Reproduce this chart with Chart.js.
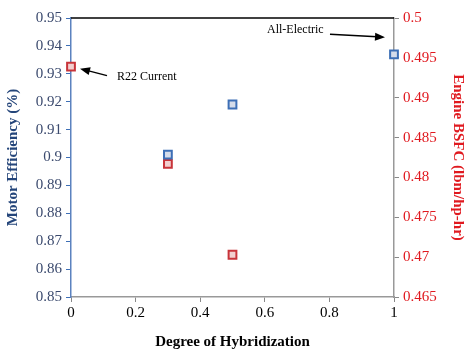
<!DOCTYPE html>
<html>
<head>
<meta charset="utf-8">
<script src="https://cdn.jsdelivr.net/npm/chart.js@4"></script>
<style>
  html, body { margin: 0; padding: 0; background: #fff; }
  #box { width: 474px; height: 363px; }
</style>
</head>
<body>
<div id="box"><canvas id="grafico"></canvas></div>
<script>
// dados
let hibridizacao = [0.3, 0.5, 1];
let eficienciaMotor = [0.901, 0.919, 0.937];
let hibridizacaoBSFC = [0, 0.3, 0.5];
let bsfcMotor = [0.4939, 0.4817, 0.4703];

let ticksX = [0, 0.2, 0.4, 0.6, 0.8, 1];
let ticksEsq = [0.85, 0.86, 0.87, 0.88, 0.89, 0.9, 0.91, 0.92, 0.93, 0.94, 0.95];
let ticksDir = [0.465, 0.47, 0.475, 0.48, 0.485, 0.49, 0.495, 0.5];

let notas = [
  { texto: "R22 Current", serie: 1, ponto: 0 },
  { texto: "All-Electric", serie: 0, ponto: 2 }
];

const fonte = "'Liberation Serif', 'Times New Roman', serif";
const azul = '#3d6fb6';
const vermelho = '#c8343a';

function fixaTicks(lista) {
  return function (eixo) {
    eixo.ticks = lista.map(v => ({ value: v }));
  };
}

function rotulo(v) {
  return String(Number(v.toFixed(4)));
}

function seta(ctx, x1, y1, x2, y2) {
  let ang = Math.atan2(y2 - y1, x2 - x1);
  ctx.beginPath();
  ctx.moveTo(x1, y1);
  ctx.lineTo(x2 - 8 * Math.cos(ang), y2 - 8 * Math.sin(ang));
  ctx.stroke();
  ctx.beginPath();
  ctx.moveTo(x2, y2);
  ctx.lineTo(x2 - 10 * Math.cos(ang) + 4 * Math.sin(ang), y2 - 10 * Math.sin(ang) - 4 * Math.cos(ang));
  ctx.lineTo(x2 - 10 * Math.cos(ang) - 4 * Math.sin(ang), y2 - 10 * Math.sin(ang) + 4 * Math.cos(ang));
  ctx.closePath();
  ctx.fill();
}

// borda de cima e setas com texto
const extras = {
  id: 'extras',
  beforeDatasetsDraw(chart) {
    const ctx = chart.ctx;
    const a = chart.chartArea;
    ctx.save();
    ctx.strokeStyle = '#000';
    ctx.lineWidth = 1.5;
    ctx.beginPath();
    ctx.moveTo(a.left, a.top);
    ctx.lineTo(a.right, a.top);
    ctx.stroke();
    ctx.restore();
  },
  afterDraw(chart) {
    const ctx = chart.ctx;
    ctx.save();
    ctx.fillStyle = '#000';
    ctx.strokeStyle = '#000';
    ctx.lineWidth = 1.5;
    ctx.font = '12px ' + fonte;
    ctx.textBaseline = 'middle';

    // R22 Current
    let p = chart.getDatasetMeta(notas[0].serie).data[notas[0].ponto];
    seta(ctx, p.x + 36, p.y + 9, p.x + 9, p.y + 2);
    ctx.textAlign = 'left';
    ctx.fillText(notas[0].texto, p.x + 46, p.y + 10);

    // All-Electric
    let q = chart.getDatasetMeta(notas[1].serie).data[notas[1].ponto];
    seta(ctx, q.x - 64, q.y - 20, q.x - 9, q.y - 17);
    ctx.fillText(notas[1].texto, q.x - 127, q.y - 24);
    ctx.restore();
  }
};

new Chart(document.getElementById('grafico').getContext('2d'), {
  type: 'scatter',
  data: {
    datasets: [{
      label: 'Motor Efficiency',
      data: hibridizacao.map((x, i) => ({ x: x, y: eficienciaMotor[i] })),
      yAxisID: 'y',
      clip: false,
      pointStyle: 'rect',
      pointRadius: 5.5,
      pointHoverRadius: 5.5,
      borderWidth: 2,
      borderColor: azul,
      backgroundColor: '#d5dcea'
    }, {
      label: 'Engine BSFC',
      data: hibridizacaoBSFC.map((x, i) => ({ x: x, y: bsfcMotor[i] })),
      yAxisID: 'y1',
      clip: false,
      pointStyle: 'rect',
      pointRadius: 5.5,
      pointHoverRadius: 5.5,
      borderWidth: 2,
      borderColor: vermelho,
      backgroundColor: '#f2cfcf'
    }]
  },
  options: {
    responsive: true,
    maintainAspectRatio: false,
    animation: false,
    layout: { padding: { top: 18, left: 0, right: 0, bottom: 12 } },
    plugins: { legend: { display: false }, tooltip: { enabled: false } },
    scales: {
      x: {
        type: 'linear',
        min: 0,
        max: 1,
        afterBuildTicks: fixaTicks(ticksX),
        afterFit: e => { e.height = 54; },
        grid: { drawOnChartArea: false, color: '#888', tickLength: 5 },
        border: { color: '#999', width: 1.5 },
        ticks: { color: '#000', font: { family: fonte, size: 15 }, padding: 2, maxRotation: 0, callback: rotulo },
        title: { display: true, text: 'Degree of Hybridization', color: '#000', font: { family: fonte, size: 15, weight: 'bold' }, padding: { top: 6, bottom: 0 } }
      },
      y: {
        position: 'left',
        min: 0.85,
        max: 0.95,
        afterBuildTicks: fixaTicks(ticksEsq),
        afterFit: e => { e.width = 71; },
        grid: { drawOnChartArea: false, color: azul, tickLength: 5 },
        border: { color: '#5b82bf', width: 1.5 },
        ticks: { color: '#3b4a6e', font: { family: fonte, size: 15 }, padding: 4, callback: rotulo },
        title: { display: true, text: 'Motor Efficiency (%)', color: '#24457a', font: { family: fonte, size: 15, weight: 'bold' }, padding: { top: 4, bottom: 4 } }
      },
      y1: {
        position: 'right',
        min: 0.465,
        max: 0.5,
        afterBuildTicks: fixaTicks(ticksDir),
        afterFit: e => { e.width = 80; },
        grid: { drawOnChartArea: false, color: '#888', tickLength: 5 },
        border: { color: '#999', width: 1.5 },
        ticks: { color: '#e0191f', font: { family: fonte, size: 15 }, padding: 4, callback: rotulo },
        title: { display: true, text: 'Engine BSFC (lbm/hp-hr)', color: '#e0191f', font: { family: fonte, size: 15, weight: 'bold' }, padding: { top: 7, bottom: 4 } }
      }
    }
  },
  plugins: [extras]
});
</script>
</body>
</html>
